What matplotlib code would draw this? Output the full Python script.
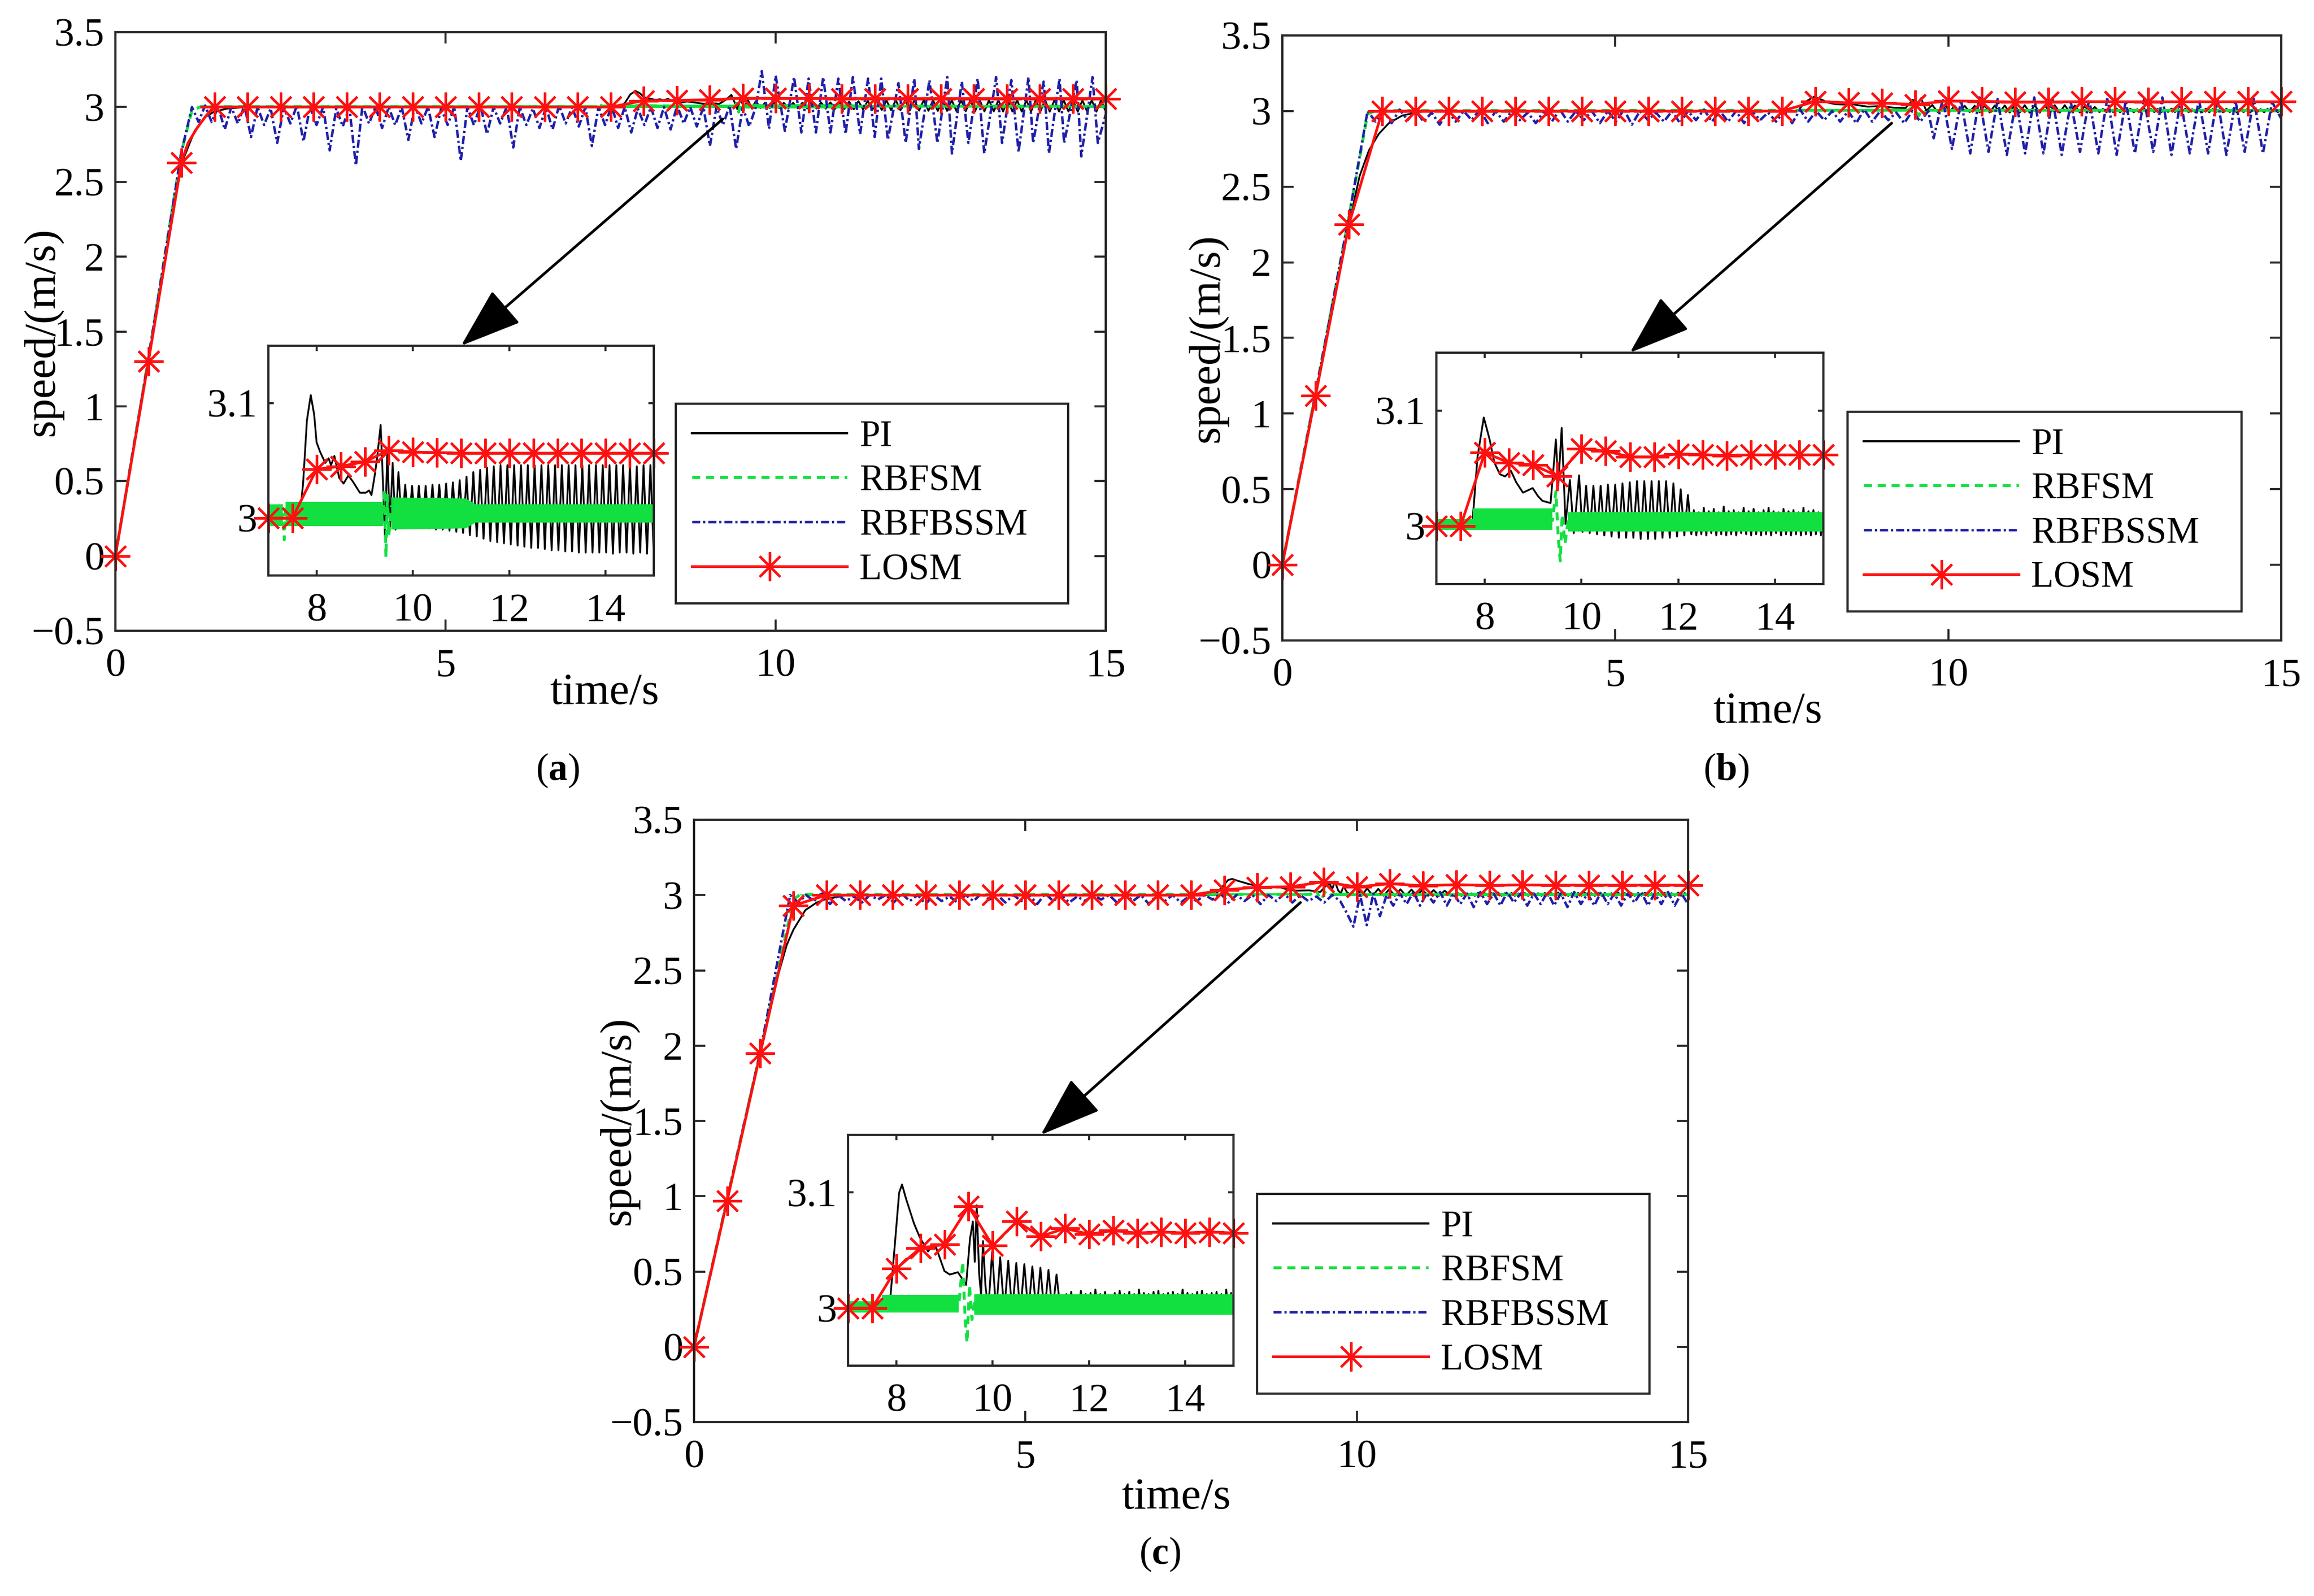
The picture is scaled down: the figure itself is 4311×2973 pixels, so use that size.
import numpy as np
import matplotlib
matplotlib.use("Agg")
import matplotlib.pyplot as plt
from matplotlib.lines import Line2D
from matplotlib.patches import ConnectionPatch, ArrowStyle

plt.rcParams['font.family'] = ['Liberation Serif', 'DejaVu Serif']
plt.rcParams['mathtext.fontset'] = 'custom'
plt.rcParams['mathtext.rm'] = 'Liberation Serif'
plt.rcParams['mathtext.bf'] = 'Liberation Serif:bold'
plt.rcParams['lines.scale_dashes'] = False

# ----------------------------------------------------------------- data
series_names = ["PI", "RBFSM", "RBFBSSM", "LOSM"]
main_xticks = [0, 5, 10, 15]
main_yticks = [-0.5, 0, 0.5, 1, 1.5, 2, 2.5, 3, 3.5]
main_yticklabels = ["\u22120.5", "0", "0.5", "1", "1.5", "2", "2.5", "3", "3.5"]
inset_xticks = [8, 10, 12, 14]
inset_yticks = [3, 3.1]
inset_yticklabels = ["3", "3.1"]
captions = ["a", "b", "c"]

marker_t = [0.0, 0.5, 1.0, 1.5, 2.0, 2.5, 3.0, 3.5, 4.0, 4.5, 5.0, 5.5, 6.0, 6.5, 7.0, 7.5,
            8.0, 8.5, 9.0, 9.5, 10.0, 10.5, 11.0, 11.5, 12.0, 12.5, 13.0, 13.5, 14.0, 14.5, 15.0]

# ---------- panel (a)
losm_a_v = [0.0, 1.30, 2.63, 3.00, 3.00, 3.00, 3.00, 3.00, 3.00, 3.00, 3.00, 3.00, 3.00, 3.00, 3.00, 3.00,
            3.0425, 3.045, 3.049, 3.059, 3.0575, 3.057, 3.0565, 3.0565, 3.0565, 3.0565, 3.0565, 3.0565,
            3.0565, 3.0565, 3.0565]
losm_a_extra_t = [1.10, 1.23, 1.37, 1.45]
losm_a_extra_v = [2.76, 2.855, 2.94, 2.98]

pi_a_rise_t = [0, 0.5, 1.0, 1.2, 1.35, 1.5, 1.7, 2.0]
pi_a_rise_v = [0, 1.30, 2.62, 2.84, 2.93, 2.97, 2.99, 3.0]
pi_a_tr_t = [7.65, 7.72, 7.80, 7.88, 7.95, 8.00, 8.07, 8.18, 8.25, 8.30, 8.37, 8.47, 8.56, 8.66, 8.75,
             8.90, 9.02, 9.09, 9.14, 9.20, 9.25, 9.33, 9.37, 9.42, 9.47, 9.52, 9.58, 9.64, 9.70]
pi_a_tr_v = [3.000, 3.030, 3.085, 3.107, 3.090, 3.066, 3.058, 3.048, 3.052, 3.046, 3.054, 3.035, 3.030,
             3.037, 3.032, 3.022, 3.022, 3.024, 3.020, 3.035, 3.050, 3.081, 3.040, 2.985, 3.060, 2.990,
             3.048, 2.990, 3.040]
pi_a_osc_span = (9.77, 15.0)
pi_a_osc_v = [2.993, 3.029, 2.992, 3.028, 2.992, 3.028, 2.991, 3.028, 2.991, 3.029, 2.990, 3.029, 2.990,
              3.030, 2.989, 3.031, 2.988, 3.033, 2.987, 3.036, 2.985, 3.040, 2.984, 3.042, 2.982, 3.044,
              2.980, 3.045, 2.979, 3.046, 2.978, 3.046, 2.977, 3.046, 2.976, 3.046, 2.975, 3.046, 2.974,
              3.046, 2.974, 3.046, 2.973, 3.046, 2.972, 3.046, 2.972, 3.046, 2.971, 3.046, 2.971, 3.046,
              2.970, 3.046, 2.970, 3.046, 2.970, 3.046, 2.970, 3.046, 2.970, 3.046, 2.969, 3.046, 2.970,
              3.046, 2.970, 3.046, 2.969, 3.045, 2.970, 3.046, 2.969, 3.046, 2.969]

sm_a_t = [0, 0.5, 1.0, 1.16, 1.3, 7.30, 7.33, 7.36, 9.38, 9.41, 9.44, 9.47, 9.50, 9.55, 15.0]
sm_a_v = [0, 1.32, 2.70, 2.98, 3.003, 3.003, 2.981, 3.012, 3.003, 3.025, 2.966, 3.020, 2.985, 3.010, 3.004]
sm_a_band_t = [1.3, 7.30, np.nan, 7.36, 9.38, np.nan, 9.55, 11.1, 11.3, 15.0]
sm_a_band_hi = [3.010, 3.012, np.nan, 3.014, 3.014, np.nan, 3.018, 3.017, 3.012, 3.012]
sm_a_band_lo = [2.995, 2.993, np.nan, 2.993, 2.993, np.nan, 2.990, 2.991, 2.996, 2.996]

bs_a_rise_t = [0, 0.5, 1.0, 1.16]
bs_a_rise_v = [0, 1.32, 2.70, 3.00]
bs_a_early_span = (1.16, 9.70)
bs_a_early_v = [3.00, 2.90, 3.01, 2.90, 3.00, 2.85, 3.00, 2.89, 3.01, 2.80, 3.00, 2.88, 2.99, 2.76, 3.00,
                2.89, 3.01, 2.77, 3.00, 2.88, 3.00, 2.71, 2.99, 2.87, 3.00, 2.61, 3.01, 2.89, 3.00, 2.86,
                3.00, 2.88, 3.00, 2.78, 3.01, 2.89, 3.00, 2.80, 2.99, 2.88, 3.00, 2.64, 3.00, 2.88, 3.01,
                2.82, 3.00, 2.89, 3.00, 2.73, 3.00, 2.88, 2.99, 2.86, 3.00, 2.85, 3.01, 2.89, 3.00, 2.87,
                3.00, 2.74, 3.00, 2.88, 3.01, 2.86, 3.00, 2.83, 2.99, 2.88, 3.00, 2.86, 3.00, 2.85, 3.01,
                2.89, 3.00, 2.87, 3.00, 2.74, 3.00, 2.88, 3.01, 2.72, 3.00, 2.87, 3.00]
bs_a_late_t = [9.79, 9.90, 10.00, 10.14, 10.28, 10.39, 10.50, 10.61, 10.72, 10.83, 10.95, 11.06, 11.17,
               11.28, 11.40, 11.50, 11.60, 11.70, 11.86, 11.97, 12.10, 12.17, 12.33, 12.45, 12.60, 12.67,
               12.82, 12.92, 13.06, 13.16, 13.34, 13.43, 13.57, 13.68, 13.83, 13.90, 14.06, 14.14, 14.30,
               14.37, 14.56, 14.63, 14.80, 14.88, 15.00]
bs_a_late_v = [3.24, 2.855, 3.21, 2.84, 3.20, 2.83, 3.19, 2.83, 3.20, 2.83, 3.19, 2.82, 3.20, 2.82, 3.19,
               2.80, 3.19, 2.78, 3.16, 2.76, 3.19, 2.72, 3.18, 2.76, 3.20, 2.69, 3.17, 2.76, 3.19, 2.69,
               3.20, 2.76, 3.18, 2.70, 3.20, 2.76, 3.17, 2.69, 3.19, 2.76, 3.18, 2.67, 3.20, 2.76, 2.95]

# ---------- panel (b)
losm_b_v = [0.0, 1.12, 2.25, 3.00, 3.00, 3.00, 3.00, 3.00, 3.00, 3.00, 3.00, 3.00, 3.00, 3.00, 3.00, 3.00,
            3.0636, 3.055, 3.053, 3.0435, 3.067, 3.065, 3.060, 3.060, 3.0625, 3.062, 3.061, 3.0617,
            3.0617, 3.0617, 3.0617]

pi_b_rise_t = [0, 0.5, 1.0, 1.16, 1.3, 1.45, 1.6, 1.8, 2.0, 2.2]
pi_b_rise_v = [0, 1.12, 2.25, 2.57, 2.74, 2.85, 2.92, 2.97, 2.99, 3.0]
pi_b_tr_t = [7.74, 7.85, 7.98, 8.10, 8.20, 8.31, 8.42, 8.54, 8.65, 8.79, 8.99, 9.10, 9.19, 9.36, 9.42,
             9.47, 9.52, 9.59, 9.67, 9.76, 9.84, 9.95]
pi_b_tr_v = [3.000, 3.060, 3.094, 3.075, 3.055, 3.045, 3.043, 3.048, 3.038, 3.029, 3.033, 3.026, 3.022,
             3.020, 3.050, 3.075, 3.035, 3.085, 3.002, 3.040, 2.994, 3.044]
pi_b_osc1_span = (10.02, 12.20)
pi_b_osc1_v = [2.995, 3.035, 2.994, 3.035, 2.993, 3.035, 2.992, 3.036, 2.991, 3.036, 2.990, 3.037, 2.990,
               3.038, 2.990, 3.039, 2.989, 3.039, 2.989, 3.039, 2.989, 3.039, 2.990, 3.039, 2.990, 3.037,
               2.991, 3.032, 2.992, 3.027]
pi_b_osc2_span = (12.27, 15.0)
pi_b_osc2_v = [2.993, 3.014, 2.992, 3.012, 2.993, 3.016, 2.992, 3.013, 2.994, 3.015, 2.992, 3.012, 2.993,
               3.017, 2.992, 3.013, 2.993, 3.014, 2.992, 3.012, 2.994, 3.016, 2.993, 3.013, 2.992, 3.015,
               2.993, 3.012, 2.992, 3.014, 2.993, 3.016, 2.992, 3.013, 2.994, 3.012, 2.992, 3.015, 2.993,
               3.013, 2.992, 3.014, 2.993, 3.012, 2.992, 3.016, 2.993, 3.013, 2.992, 3.014, 2.993, 3.012,
               2.992, 3.013]

sm_b_t = [0, 0.5, 1.0, 1.28, 1.4, 7.75, 9.40, 9.47, 9.52, 9.56, 9.60, 9.66, 9.72, 15.0]
sm_b_v = [0, 1.14, 2.30, 2.98, 3.003, 3.005, 3.005, 3.030, 2.990, 2.970, 3.010, 2.985, 3.004, 3.004]
sm_b_band_t = [1.4, 7.75, 7.75, 9.40, np.nan, 9.72, 15.0]
sm_b_band_hi = [3.006, 3.006, 3.0154, 3.0154, np.nan, 3.012, 3.012]
sm_b_band_lo = [2.997, 2.997, 2.997, 2.997, np.nan, 2.9955, 2.9955]

bs_b_rise_t = [0, 0.5, 1.0, 1.28]
bs_b_rise_v = [0, 1.14, 2.30, 3.00]
bs_b_early_span = (1.28, 9.70)
bs_b_early_v = [3.00, 2.93, 3.00, 2.92, 3.01, 2.94, 3.00, 2.93, 2.99, 2.91, 3.00, 2.93, 3.00, 2.94, 3.01,
                2.92, 3.00, 2.93, 3.00, 2.94, 2.99, 2.92, 3.00, 2.93, 3.01, 2.93, 3.00, 2.94, 3.00, 2.92,
                3.00, 2.93, 3.01, 2.91, 3.00, 2.94, 2.99, 2.93, 3.00, 2.92, 3.00, 2.94, 3.01, 2.93, 3.00,
                2.93, 3.00, 2.92, 3.00, 2.94, 2.99, 2.93, 3.00, 2.92, 3.01, 2.93, 3.00, 2.94, 3.00, 2.93,
                3.00, 2.92, 3.01, 2.93, 3.00, 2.94, 2.99, 2.92, 3.00, 2.93, 3.00]
bs_b_late_span = (9.78, 15.0)
bs_b_late_v = [2.82, 3.08, 2.75, 3.07, 2.72, 3.09, 2.73, 3.08, 2.71, 3.07, 2.72, 3.09, 2.72, 3.08, 2.71,
               3.06, 2.73, 3.08, 2.72, 3.09, 2.71, 3.07, 2.72, 3.08, 2.73, 3.09, 2.71, 3.07, 2.72, 3.08,
               2.72, 3.09, 2.71, 3.07, 2.73, 3.08, 2.72, 3.06, 2.95]

# ---------- panel (c)
losm_c_v = [0.0, 0.97, 1.95, 2.93, 3.00, 3.00, 3.00, 3.00, 3.00, 3.00, 3.00, 3.00, 3.00, 3.00, 3.00, 3.00,
            3.034, 3.052, 3.055, 3.088, 3.054, 3.075, 3.062, 3.069, 3.064, 3.067, 3.065, 3.066, 3.065,
            3.066, 3.065]

pi_c_rise_t = [0, 0.5, 1.0, 1.27, 1.4, 1.5, 1.68, 1.85, 1.97, 2.3]
pi_c_rise_v = [0, 0.97, 1.95, 2.47, 2.67, 2.77, 2.90, 2.95, 2.97, 3.0]
pi_c_tr_t = [7.86, 7.98, 8.06, 8.12, 8.20, 8.37, 8.49, 8.66, 8.75, 8.83, 9.00, 9.11, 9.28, 9.45, 9.53,
             9.59, 9.63, 9.67, 9.72, 9.76, 9.80, 9.85, 9.91]
pi_c_tr_v = [3.000, 3.060, 3.100, 3.107, 3.095, 3.073, 3.061, 3.049, 3.054, 3.052, 3.032, 3.029, 3.031,
             3.020, 3.060, 3.075, 3.040, 3.089, 3.030, 3.011, 3.058, 3.020, 2.998]
pi_c_osc1_span = (9.99, 11.41)
pi_c_osc1_v = [3.049, 2.996, 3.044, 2.996, 3.041, 2.996, 3.039, 2.995, 3.038, 2.995, 3.036, 2.995, 3.035,
               2.995, 3.033, 2.996, 3.029, 2.997]
pi_c_osc2_span = (11.48, 15.0)
pi_c_osc2_v = [2.996, 3.012, 2.995, 3.014, 2.996, 3.011, 2.995, 3.015, 2.996, 3.012, 2.995, 3.013, 2.996,
               3.016, 2.995, 3.012, 2.996, 3.014, 2.995, 3.011, 2.996, 3.013, 2.995, 3.015, 2.996, 3.012,
               2.995, 3.014, 2.996, 3.012, 2.995, 3.016, 2.996, 3.013, 2.995, 3.012, 2.996, 3.014, 2.995,
               3.015, 2.996, 3.012, 2.995, 3.013, 2.996, 3.014, 2.995, 3.012, 2.996, 3.016, 2.995, 3.013,
               2.996, 3.012, 2.995, 3.014, 2.996, 3.015, 2.995, 3.012, 2.996, 3.013, 2.995, 3.014, 2.996,
               3.012, 2.995, 3.016, 2.996, 3.013, 2.995]

sm_c_t = [0, 0.5, 1.0, 1.5, 1.6, 7.70, 9.30, 9.38, 9.43, 9.47, 9.52, 9.57, 9.62, 15.0]
sm_c_v = [0, 0.98, 1.96, 2.97, 3.003, 3.004, 3.004, 3.040, 2.990, 2.970, 3.020, 2.990, 3.004, 3.003]
sm_c_band_t = [1.6, 7.70, 7.70, 9.30, np.nan, 9.62, 15.0]
sm_c_band_hi = [3.006, 3.006, 3.0116, 3.0116, np.nan, 3.012, 3.012]
sm_c_band_lo = [2.996, 2.996, 2.996, 2.996, np.nan, 2.994, 2.994]

bs_c_rise_t = [0, 0.5, 1.0, 1.45]
bs_c_rise_v = [0, 0.98, 1.96, 3.00]
bs_c_early_span = (1.45, 9.75)
bs_c_early_v = [3.00, 2.95, 3.00, 2.96, 3.01, 2.94, 3.00, 2.96, 2.99, 2.95, 3.00, 2.97, 3.00, 2.95, 3.01,
                2.96, 3.00, 2.94, 3.00, 2.96, 2.99, 2.95, 3.00, 2.96, 3.01, 2.97, 3.00, 2.95, 3.00, 2.96,
                3.00, 2.94, 3.01, 2.96, 3.00, 2.95, 2.99, 2.96, 3.00, 2.97, 3.00, 2.95, 3.01, 2.96, 3.00,
                2.94, 3.00, 2.96, 3.00, 2.95, 2.99, 2.96, 3.00, 2.97, 3.01, 2.95, 3.00, 2.96, 3.00, 2.94,
                3.00, 2.96, 3.01, 2.95, 3.00, 2.96, 2.99, 2.95, 3.00, 2.96]
bs_c_dip_t = [9.85, 9.95, 10.05, 10.15, 10.25, 10.35, 10.45]
bs_c_dip_v = [2.88, 2.79, 3.00, 2.80, 3.01, 2.86, 3.00]
bs_c_tail_span = (10.55, 15.0)
bs_c_tail_v = [2.93, 3.01, 2.94, 3.02, 2.93, 3.01, 2.95, 3.02, 2.93, 3.01, 2.94, 3.01, 2.92, 3.02, 2.94,
               3.01, 2.93, 3.02, 2.95, 3.01, 2.93, 3.01, 2.94, 3.02, 2.93, 3.01, 2.92, 3.02, 2.94, 3.01,
               2.93, 3.02, 2.94, 3.01, 2.93, 3.01, 2.95, 3.02, 2.93, 3.01, 2.94, 3.02, 2.93, 3.01, 2.94]


# ------------------------------------------------------------ assembly helpers
def even(span, vals):
    return np.linspace(span[0], span[1], len(vals)), np.asarray(vals, float)


def join(*parts):
    return (np.concatenate([np.asarray(p[0], float) for p in parts]),
            np.concatenate([np.asarray(p[1], float) for p in parts]))


def losm_line(vals, extra_t=(), extra_v=()):
    t = np.concatenate([np.asarray(marker_t, float), np.asarray(extra_t, float)])
    v = np.concatenate([np.asarray(vals, float), np.asarray(extra_v, float)])
    o = np.argsort(t, kind="stable")
    return t[o], v[o]


data = {
    "a": dict(
        pi=join((pi_a_rise_t, pi_a_rise_v), (pi_a_tr_t, pi_a_tr_v), even(pi_a_osc_span, pi_a_osc_v)),
        sm=(np.array(sm_a_t, float), np.array(sm_a_v, float)),
        band=(np.array(sm_a_band_t), np.array(sm_a_band_lo), np.array(sm_a_band_hi)),
        bs=join((bs_a_rise_t, bs_a_rise_v), even(bs_a_early_span, bs_a_early_v), (bs_a_late_t, bs_a_late_v)),
        lo=losm_line(losm_a_v, losm_a_extra_t, losm_a_extra_v),
        mk=(np.array(marker_t, float), np.array(losm_a_v, float)),
    ),
    "b": dict(
        pi=join((pi_b_rise_t, pi_b_rise_v), (pi_b_tr_t, pi_b_tr_v), even(pi_b_osc1_span, pi_b_osc1_v),
                even(pi_b_osc2_span, pi_b_osc2_v)),
        sm=(np.array(sm_b_t, float), np.array(sm_b_v, float)),
        band=(np.array(sm_b_band_t), np.array(sm_b_band_lo), np.array(sm_b_band_hi)),
        bs=join((bs_b_rise_t, bs_b_rise_v), even(bs_b_early_span, bs_b_early_v), even(bs_b_late_span, bs_b_late_v)),
        lo=losm_line(losm_b_v),
        mk=(np.array(marker_t, float), np.array(losm_b_v, float)),
    ),
    "c": dict(
        pi=join((pi_c_rise_t, pi_c_rise_v), (pi_c_tr_t, pi_c_tr_v), even(pi_c_osc1_span, pi_c_osc1_v),
                even(pi_c_osc2_span, pi_c_osc2_v)),
        sm=(np.array(sm_c_t, float), np.array(sm_c_v, float)),
        band=(np.array(sm_c_band_t), np.array(sm_c_band_lo), np.array(sm_c_band_hi)),
        bs=join((bs_c_rise_t, bs_c_rise_v), even(bs_c_early_span, bs_c_early_v), (bs_c_dip_t, bs_c_dip_v),
                even(bs_c_tail_span, bs_c_tail_v)),
        lo=losm_line(losm_c_v),
        mk=(np.array(marker_t, float), np.array(losm_c_v, float)),
    ),
}

# ------------------------------------------------------------------ layout
W, H = 4311, 2973
LAYOUT = {
    "a": dict(main=(215, 2060, 60, 1175), inset=(500, 1218, 644, 1072), legend=(1259, 1990, 752, 1105),
              xlabel=(0.494, -0.105), ylabel=(-0.073, 0.5), caption=(1039, 1435), arrow=(9.2, 2.92)),
    "b": dict(main=(2389, 4250, 66, 1193), inset=(2676, 3397, 657, 1088), legend=(3442, 4176, 767, 1122),
              xlabel=(0.486, -0.119), ylabel=(-0.075, 0.5), caption=(3216, 1435), arrow=(9.15, 2.92)),
    "c": dict(main=(1293, 3145, 1527, 2649), inset=(1580, 2298, 2114, 2544), legend=(2342, 3073, 2224, 2576),
              xlabel=(0.485, -0.126), ylabel=(-0.0756, 0.5), caption=(2161, 2895), arrow=(9.15, 2.95)),
}
INSET_XLIM = (7, 15)
INSET_YLIM = (2.95, 3.15)
ARROW_TIP = (11.0, 3.15)

BLACK = "black"
GREEN = "#12e040"
BLUE = "#1f1fa8"
RED = "#ff1010"
SPINE = "#262626"
STAR = (8, 2, 0)

TICK_FS = 18
LABEL_FS = 20
LEG_FS = 16.5


def rect(l, r, t, b):
    return [l / W, 1 - b / H, (r - l) / W, (b - t) / H]


def style_axes(ax, length):
    for s in ax.spines.values():
        s.set_linewidth(1.0)
        s.set_color(SPINE)
    ax.tick_params(axis="both", which="both", direction="in", top=True, right=True,
                   length=length, width=0.9, color=SPINE, labelsize=TICK_FS, labelcolor="black")
    ax.tick_params(axis="x", pad=8)
    ax.tick_params(axis="y", pad=5)


def draw_series(ax, d, inset=False):
    pt, pv = d["pi"]
    ax.plot(pt, pv, color=BLACK, lw=0.8, zorder=2)
    bt, blo, bhi = d["band"]
    ax.fill_between(bt, blo, bhi, color=GREEN, lw=0, zorder=2.1)
    st, sv = d["sm"]
    ax.plot(st, sv, color=GREEN, lw=1.3, dashes=(3.6, 2.6), zorder=2.2)
    if not inset:
        bst, bsv = d["bs"]
        ax.plot(bst, bsv, color=BLUE, lw=1.1, dashes=(3.6, 1.3, 1.0, 1.3), zorder=2.3)
    lt, lv = d["lo"]
    ax.plot(lt, lv, color=RED, lw=1.2, zorder=2.4)
    mt, mv = d["mk"]
    if inset:
        keep = mt >= INSET_XLIM[0]
        mt, mv = mt[keep], mv[keep]
    ax.plot(mt, mv, ls="none", marker=STAR, ms=13, mew=1.0, mec=RED, mfc=RED, clip_on=False, zorder=2.5)


fig = plt.figure(figsize=(W / 300, H / 300), dpi=300)
fig.patch.set_facecolor("white")

handles = [
    Line2D([], [], color=BLACK, lw=1.0),
    Line2D([], [], color=GREEN, lw=1.3, dashes=(3.6, 2.6)),
    Line2D([], [], color=BLUE, lw=1.1, dashes=(3.6, 1.3, 1.0, 1.3)),
    Line2D([], [], color=RED, lw=1.2, marker=STAR, ms=13, mew=1.0, mec=RED),
]

for key, cap in zip(["a", "b", "c"], captions):
    L = LAYOUT[key]
    d = data[key]
    ax = fig.add_axes(rect(*L["main"]))
    draw_series(ax, d)
    ax.set_xlim(0, 15)
    ax.set_ylim(-0.5, 3.5)
    ax.set_xticks(main_xticks)
    ax.set_yticks(main_yticks)
    ax.set_yticklabels(main_yticklabels)
    style_axes(ax, 5)
    ax.set_xlabel("time/s", fontsize=LABEL_FS)
    ax.xaxis.set_label_coords(*L["xlabel"])
    ax.xaxis.label.set_va("center")
    ax.set_ylabel("speed/(m/s)", fontsize=LABEL_FS)
    ax.yaxis.set_label_coords(*L["ylabel"])
    ax.yaxis.label.set_va("center")

    l, r, t, b = L["legend"]
    leg = ax.legend(handles, series_names, loc="upper left",
                    bbox_to_anchor=(l / W, 1 - b / H, (r - l) / W, (b - t) / H),
                    bbox_transform=fig.transFigure, mode="expand", borderaxespad=0,
                    fontsize=LEG_FS, handlelength=4.2, handletextpad=0.33, labelspacing=0.28,
                    borderpad=0.44, fancybox=False, framealpha=1, edgecolor=SPINE)
    leg.get_frame().set_linewidth(1.0)

    axi = fig.add_axes(rect(*L["inset"]))
    draw_series(axi, d, inset=True)
    axi.set_xlim(*INSET_XLIM)
    axi.set_ylim(*INSET_YLIM)
    axi.set_xticks(inset_xticks)
    axi.set_yticks(inset_yticks)
    axi.set_yticklabels(inset_yticklabels)
    style_axes(axi, 2.5)

    con = ConnectionPatch(xyA=L["arrow"], coordsA="data", axesA=ax,
                          xyB=ARROW_TIP, coordsB="data", axesB=axi,
                          arrowstyle=ArrowStyle("-|>", head_length=1.2, head_width=0.42),
                          mutation_scale=20, color="black", lw=1.2, shrinkA=0, shrinkB=0, zorder=20)
    fig.add_artist(con)

    cx, cy = L["caption"]
    fig.text(cx / W, 1 - cy / H, r"($\mathbf{%s}$)" % cap, ha="center", va="center", fontsize=17)

fig.savefig("out.png", dpi=300, facecolor="white")
